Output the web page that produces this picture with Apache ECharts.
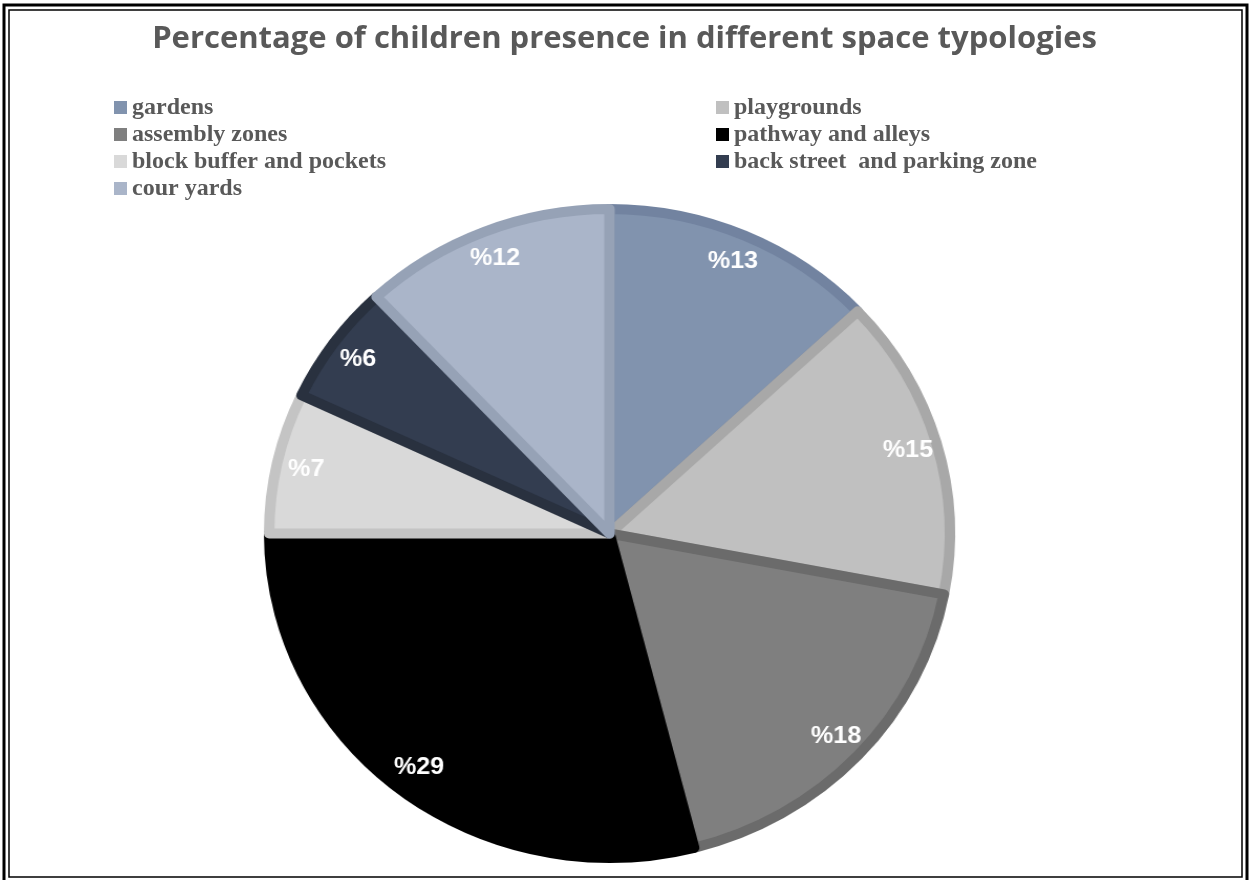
<!DOCTYPE html>
<html><head><meta charset="utf-8">
<script src="https://cdn.jsdelivr.net/npm/echarts@6/dist/echarts.min.js"></script>
<style>html,body{margin:0;padding:0;background:#fff}
#wrap{position:relative;width:1249px;height:880px;overflow:hidden}
#c,#p{position:absolute;left:0;top:0;width:1249px;height:880px}
#p{transform-origin:609.5px 533.5px;transform:scale(1.049,1)}
</style>
</head><body><div id="wrap"><div id="c"></div><div id="p"></div></div>
<script>
const categories = ['gardens','playgrounds','assembly zones','pathway and alleys','block buffer and pockets','back street  and parking zone','cour yards'];
const values = [13, 15, 18, 29, 7, 6, 12];
const fillColors = ['#8193ae','#c0c0c0','#7f7f7f','#000000','#d9d9d9','#333d50','#aab5c9'];
const borderColors = ['#7283a0','#a8a8a8','#6b6b6b','#000000','#c4c4c4','#29313f','#96a2b6'];
const legendLeft = ['gardens','assembly zones','block buffer and pockets','cour yards'];
const legendRight = ['playgrounds','pathway and alleys','back street  and parking zone'];

const cx = 609.5, cy = 533.5, R = 324.5;
const legendText = {fontFamily:'Liberation Serif', fontWeight:'bold', fontSize:24, color:'#595959', lineHeight:27};
const legendColor = n => fillColors[categories.indexOf(n)];

const chart = echarts.init(document.getElementById('c'));
chart.setOption({
  animation:false,
  color: fillColors,
  title:{text:'Percentage of children presence in different space typologies', left:'center', top:19,
    textStyle:{fontFamily:'Open Sans', fontWeight:'bold', fontSize:31, color:'#595959'}},
  legend:[
    {data:legendLeft.map(n=>({name:n, itemStyle:{color:legendColor(n)}})), orient:'vertical', left:114, top:94, padding:0, itemWidth:13, itemHeight:13, itemGap:0, icon:'rect', textStyle:legendText, selectedMode:false},
    {data:legendRight.map(n=>({name:n, itemStyle:{color:legendColor(n)}})), orient:'vertical', left:716, top:94, padding:0, itemWidth:13, itemHeight:13, itemGap:0, icon:'rect', textStyle:legendText, selectedMode:false}
  ],
  graphic:[
    {type:'rect', shape:{x:4, y:5, width:1243, height:880}, style:{fill:'none', stroke:'#000', lineWidth:3}, silent:true},
    {type:'rect', shape:{x:9, y:10, width:1233, height:867}, style:{fill:'none', stroke:'#000', lineWidth:1.5}, silent:true}
  ],
  series:[
    {type:'pie', center:[cx,cy], radius:[0,0], silent:true, label:{show:false}, labelLine:{show:false},
      data: categories.map((n,i)=>({name:n, value:values[i], itemStyle:{color:fillColors[i]}}))}
  ]
});

const pie = echarts.init(document.getElementById('p'));
pie.setOption({
  animation:false,
  series:[
    {type:'pie', center:[cx,cy], radius:[0,R], startAngle:90, clockwise:true, silent:true,
      label:{show:false}, labelLine:{show:false},
      data: categories.map((n,i)=>({name:n, value:values[i],
        itemStyle:{color:fillColors[i], borderColor:borderColors[i], borderWidth:10}}))},
    {type:'pie', center:[cx,cy], radius:[262,R], startAngle:90, clockwise:true, silent:true,
      itemStyle:{color:'rgba(0,0,0,0)'},
      label:{show:true, position:'inside', formatter:p=>'%'+p.value,
        fontFamily:'Liberation Sans', fontWeight:'bold', fontSize:24, color:'#ffffff'},
      labelLine:{show:false},
      data: categories.map((n,i)=>({name:n, value:values[i]}))}
  ]
});
</script></body></html>
